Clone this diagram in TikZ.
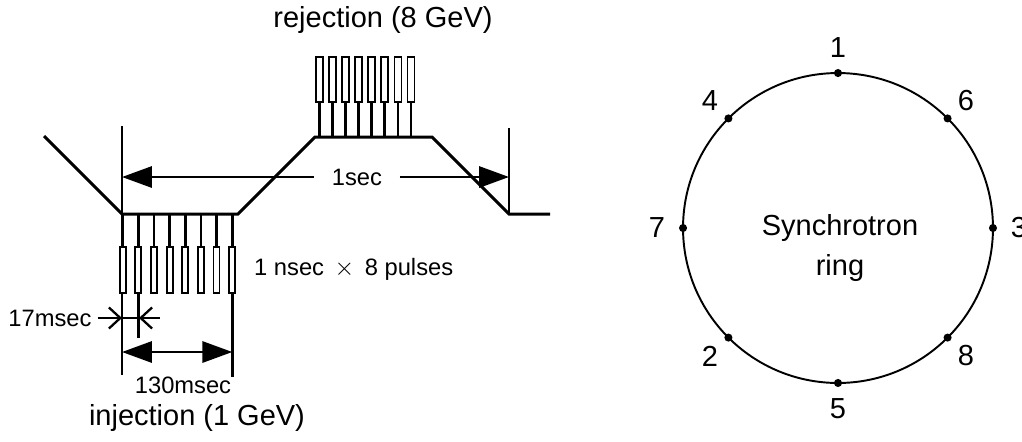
\documentclass[tikz,border=0pt]{standalone}
\usepackage{fontspec}
\setmainfont{Liberation Sans}
\usetikzlibrary{arrows.meta,calc}

\tikzset{
  wave/.style={line width=1.7pt},
  stem/.style={line width=1.5pt},
  pulse/.style={line width=1pt,fill=white},
  big/.style={font=\fontsize{16.5}{22.7}\selectfont},
  small/.style={font=\fontsize{13.5}{16}\selectfont},
  dimline/.style={line width=1.5pt,{Triangle[length=17pt,width=12pt]}-{Triangle[length=17pt,width=12pt]}},
  dimtip/.style={line width=1.3pt,-{Straight Barb[length=6.5pt,width=12pt,line width=1.3pt]}}
}

\begin{document}
\begin{tikzpicture}[x=0.02cm,y=-0.02cm]
  \useasboundingbox (0,0) rectangle (1022,441);

  % one cycle of the magnet current
  \coordinate (w0) at (44,136);
  \coordinate (w1) at (122,214);
  \coordinate (w2) at (238,214);
  \coordinate (w3) at (315,137);
  \coordinate (w4) at (432,137);
  \coordinate (w5) at (509,214);
  \coordinate (w6) at (550,214);
  \draw[wave] (w0)--(w1)--(w2)--(w3)--(w4)--(w5)--(w6);
  \coordinate (m0) at (122,126);
  \coordinate (m1) at (122,375);
  \coordinate (m2) at (509,128);
  \draw[wave] (m0)--(m1);
  \draw[wave] (m2)--(w5);

  % period
  \node[small,inner xsep=10pt] (period) at (357,177) {1sec};
  \coordinate (p0) at (122,177);
  \coordinate (p1) at (509,177);
  \draw[line width=1.5pt,-{Triangle[length=17pt,width=12pt]}] (period.west)--(p0);
  \draw[line width=1.5pt,-{Triangle[length=17pt,width=12pt]}] (period.east)--(p1);

  % injected pulses
  \foreach \i in {0,...,7} {
    \pgfmathsetmacro\px{122.7+15.65*\i}
    \draw[stem] (\px,214)--(\px,247);
    \draw[pulse] (\px-3,247) rectangle (\px+3,293);
  }
  \coordinate (t1) at (138.3,293);
  \coordinate (t1b) at (138.3,338);
  \coordinate (t8) at (232.3,293);
  \coordinate (t8b) at (232.3,377);
  \draw[stem] (t1)--(t1b);
  \draw[stem] (t8)--(t8b);
  \node[small,anchor=west] (pulsewd) at (248,269) {1 nsec \,$\times$\, 8 pulses};

  % extracted pulses
  \foreach \i in {0,...,7} {
    \pgfmathsetmacro\px{319.3+13.1*\i}
    \draw[stem] (\px,137)--(\px,102);
    \draw[pulse] (\px-3.5,57) rectangle (\px+3.5,102);
  }
  \node[big] (rej) at (383,20) {rejection (8 GeV)};

  % spacing of the pulses
  \node[small] (gap) at (50,318) {17msec};
  \coordinate (g0) at (122,318);
  \coordinate (g1) at (139,318);
  \coordinate (g2) at (160,318);
  \draw[dimtip] (gap.east)--(g0);
  \draw[line width=1.3pt] (g0)--(g1);
  \draw[dimtip] (g2)--(g1);

  \coordinate (d0) at (122,352);
  \coordinate (d1) at (232.3,352);
  \draw[dimline] (d0)--(d1);
  \node[small] (train) at (183,385) {130msec};
  \node[big] (inj) at (197,418) {injection (1 GeV)};

  % the ring
  \node[draw,circle,line width=1.1pt,minimum size=6.2cm,inner sep=0pt,outer sep=0pt] (ring) at (838,228) {};
  \node[big,align=center] (ringlbl) at (840,248) {Synchrotron\\ring};
  \foreach \n/\a in {1/90,6/45,3/0,8/-45,5/-90,2/-135,7/180,4/135} {
    \fill (ring.\a) circle (2.3pt);
    \node[big] (k\n) at ($(ring.center)+(\a:3.62cm)$) {\n};
  }
\end{tikzpicture}
\end{document}
